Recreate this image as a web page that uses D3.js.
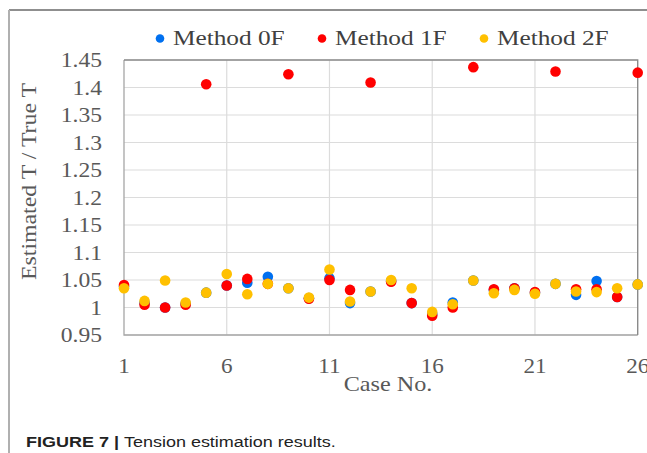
<!DOCTYPE html>
<html>
<head>
<meta charset="utf-8">
<script src="https://cdn.jsdelivr.net/npm/d3@7"></script>
<style>
  html, body { margin: 0; padding: 0; background: #fff; }
  svg { display: block; }
</style>
</head>
<body>
<svg id="chart" width="647" height="453"></svg>
<script>
// ---- data ----
const cases = d3.range(1, 27);
const method0F = [1.038, 1.008, 1.000, 1.007, 1.027, 1.040, 1.045, 1.056, 1.035, 1.017, 1.053, 1.008, 1.029,
                  1.048, 1.008, 0.988, 1.009, 1.049, 1.032, 1.035, 1.027, 1.043, 1.023, 1.048, 1.019, 1.042];
const method1F = [1.041, 1.005, 1.000, 1.005, 1.406, 1.040, 1.052, 1.043, 1.424, 1.016, 1.050, 1.032, 1.409,
                  1.047, 1.008, 0.985, 1.000, 1.437, 1.033, 1.035, 1.028, 1.429, 1.033, 1.033, 1.019, 1.427];
const method2F = [1.035, 1.012, 1.049, 1.009, 1.027, 1.061, 1.024, 1.043, 1.035, 1.018, 1.069, 1.011, 1.029,
                  1.050, 1.035, 0.992, 1.006, 1.049, 1.026, 1.032, 1.025, 1.043, 1.029, 1.028, 1.035, 1.042];
const seriesNames = ["Method 0F", "Method 1F", "Method 2F"];
const seriesColors = ["#0070f0", "#ff0000", "#ffc000"];
const yTicks = [0.95, 1, 1.05, 1.1, 1.15, 1.2, 1.25, 1.3, 1.35, 1.4, 1.45];
const xTicks = [1, 6, 11, 16, 21, 26];

const series = [method0F, method1F, method2F];

const svg = d3.select("#chart");
const serif = "'Liberation Serif', 'Times New Roman', serif";
const sans = "'Liberation Sans', Arial, sans-serif";

// outer frame
svg.append("line").attr("x1", 9).attr("x2", 647).attr("y1", 10).attr("y2", 10)
  .attr("stroke", "#6a6a6a").attr("stroke-width", 1.5);
svg.append("line").attr("x1", 9).attr("x2", 9).attr("y1", 10).attr("y2", 453)
  .attr("stroke", "#b0b0b0").attr("stroke-width", 2);

const pLeft = 124, pRight = 637.7, pTop = 60, pBottom = 335;
const x = d3.scaleLinear().domain([1, 26]).range([pLeft, pRight]);
const y = d3.scaleLinear().domain([0.95, 1.45]).range([pBottom, pTop]);

// gridlines
const g = svg.append("g");
g.selectAll("line.hg").data(yTicks).join("line")
  .attr("x1", pLeft).attr("x2", pRight)
  .attr("y1", d => y(d)).attr("y2", d => y(d))
  .attr("stroke", "#dcdcdc").attr("stroke-width", 1.2);
g.selectAll("line.vg").data(xTicks.slice(1, -1)).join("line")
  .attr("x1", d => x(d)).attr("x2", d => x(d))
  .attr("y1", pTop).attr("y2", pBottom)
  .attr("stroke", "#dcdcdc").attr("stroke-width", 1.2);

// plot border: lighter left/bottom, darker top/right
g.append("path")
  .attr("d", `M${pLeft},${pTop}V${pBottom}H${pRight}`)
  .attr("fill", "none").attr("stroke", "#a6a6a6").attr("stroke-width", 1.3);
g.append("path")
  .attr("d", `M${pLeft},${pTop}H${pRight}V${pBottom}`)
  .attr("fill", "none").attr("stroke", "#8a8a8a").attr("stroke-width", 1.4);

// y tick labels
svg.append("g").selectAll("text").data(yTicks).join("text")
  .attr("transform", d => `translate(102,${y(d) + 7}) scale(1.18,1)`)
  .attr("text-anchor", "end")
  .attr("font-family", serif).attr("font-size", 20).attr("fill", "#595959")
  .text(d => String(+d.toFixed(2)));

// x tick labels
svg.append("g").selectAll("text").data(xTicks).join("text")
  .attr("transform", d => `translate(${x(d)},373) scale(1.1,1)`)
  .attr("text-anchor", "middle")
  .attr("font-family", serif).attr("font-size", 21).attr("fill", "#595959")
  .text(d => d);

// axis titles
svg.append("text")
  .attr("transform", "translate(388,391) scale(1.1,1)")
  .attr("text-anchor", "middle")
  .attr("font-family", serif).attr("font-size", 22).attr("fill", "#595959")
  .text("Case No.");
svg.append("text")
  .attr("transform", "translate(36,181.5) rotate(-90)")
  .attr("text-anchor", "middle")
  .attr("font-family", serif).attr("font-size", 22).attr("fill", "#595959")
  .attr("textLength", 197).attr("lengthAdjust", "spacingAndGlyphs")
  .text("Estimated T / True T");

// points
series.forEach((vals, i) => {
  svg.append("g").selectAll("circle").data(vals).join("circle")
    .attr("cx", (d, j) => x(cases[j]))
    .attr("cy", d => y(d))
    .attr("r", 5.3)
    .attr("fill", seriesColors[i]);
});

// legend
const legX = [160, 322, 484];
const leg = svg.append("g");
seriesNames.forEach((name, i) => {
  leg.append("circle").attr("cx", legX[i]).attr("cy", 38.5).attr("r", 4.3).attr("fill", seriesColors[i]);
  leg.append("text")
    .attr("transform", `translate(${legX[i] + 13},45) scale(1.15,1)`)
    .attr("font-family", serif).attr("font-size", 22).attr("fill", "#404040")
    .text(name);
});

// caption
const cap = svg.append("text")
  .attr("transform", "translate(26,447) scale(1.2,1)")
  .attr("font-family", sans).attr("font-size", 15).attr("fill", "#222");
cap.append("tspan").attr("font-weight", "bold").text("FIGURE 7 | ");
cap.append("tspan").text("Tension estimation results.");
</script>
</body>
</html>
